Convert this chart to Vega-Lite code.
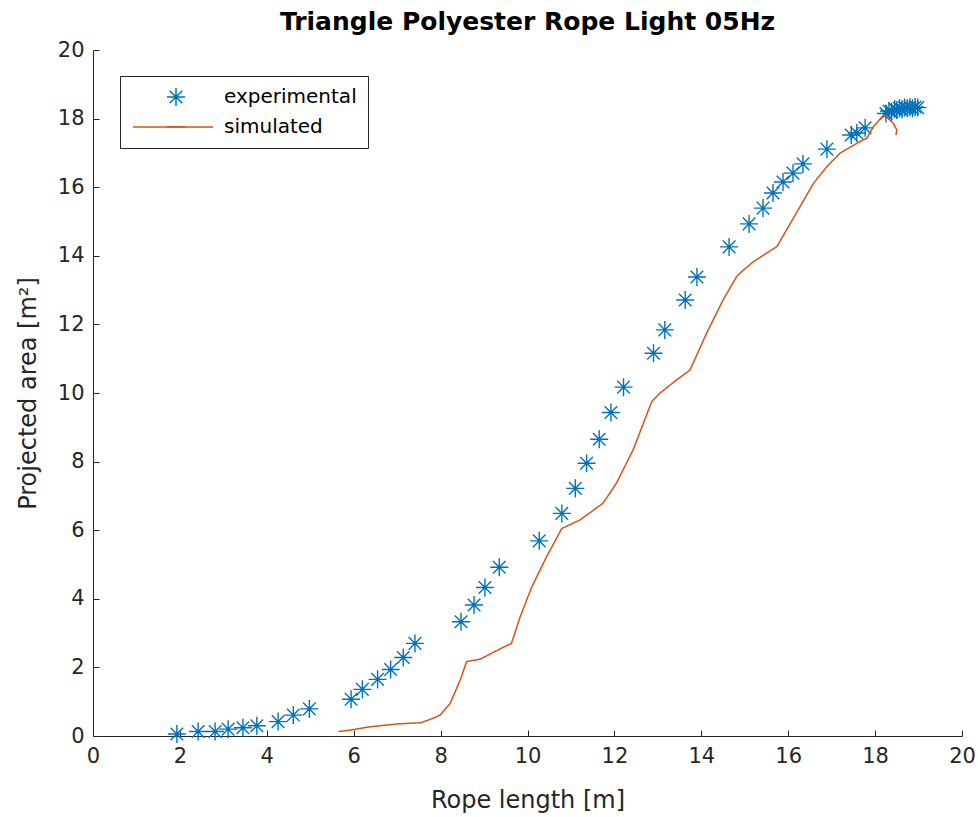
{
  "$schema": "https://vega.github.io/schema/vega-lite/v6.json",
  "width": 869,
  "height": 686,
  "autosize": {"type": "none"},
  "padding": {"left": 93, "top": 50, "right": 16, "bottom": 81},
  "background": "white",
  "title": {"text": "Triangle Polyester Rope Light 05Hz", "font": "DejaVu Sans", "fontSize": 25, "fontWeight": "bold", "color": "#000000", "anchor": "middle", "offset": 4},
  "datasets": {
    "exp": [
      {"x": 1.93, "y": 0.06, "series": "experimental"},
      {"x": 2.42, "y": 0.13, "series": "experimental"},
      {"x": 2.81, "y": 0.13, "series": "experimental"},
      {"x": 3.11, "y": 0.2, "series": "experimental"},
      {"x": 3.45, "y": 0.24, "series": "experimental"},
      {"x": 3.77, "y": 0.3, "series": "experimental"},
      {"x": 4.26, "y": 0.42, "series": "experimental"},
      {"x": 4.61, "y": 0.61, "series": "experimental"},
      {"x": 4.98, "y": 0.79, "series": "experimental"},
      {"x": 5.94, "y": 1.07, "series": "experimental"},
      {"x": 6.2, "y": 1.36, "series": "experimental"},
      {"x": 6.55, "y": 1.65, "series": "experimental"},
      {"x": 6.85, "y": 1.94, "series": "experimental"},
      {"x": 7.14, "y": 2.29, "series": "experimental"},
      {"x": 7.41, "y": 2.7, "series": "experimental"},
      {"x": 8.47, "y": 3.33, "series": "experimental"},
      {"x": 8.77, "y": 3.82, "series": "experimental"},
      {"x": 9.02, "y": 4.33, "series": "experimental"},
      {"x": 9.35, "y": 4.92, "series": "experimental"},
      {"x": 10.27, "y": 5.69, "series": "experimental"},
      {"x": 10.79, "y": 6.49, "series": "experimental"},
      {"x": 11.1, "y": 7.22, "series": "experimental"},
      {"x": 11.36, "y": 7.95, "series": "experimental"},
      {"x": 11.65, "y": 8.65, "series": "experimental"},
      {"x": 11.92, "y": 9.43, "series": "experimental"},
      {"x": 12.21, "y": 10.17, "series": "experimental"},
      {"x": 12.9, "y": 11.16, "series": "experimental"},
      {"x": 13.16, "y": 11.84, "series": "experimental"},
      {"x": 13.63, "y": 12.71, "series": "experimental"},
      {"x": 13.9, "y": 13.38, "series": "experimental"},
      {"x": 14.64, "y": 14.26, "series": "experimental"},
      {"x": 15.1, "y": 14.93, "series": "experimental"},
      {"x": 15.42, "y": 15.39, "series": "experimental"},
      {"x": 15.65, "y": 15.83, "series": "experimental"},
      {"x": 15.88, "y": 16.15, "series": "experimental"},
      {"x": 16.11, "y": 16.41, "series": "experimental"},
      {"x": 16.34, "y": 16.68, "series": "experimental"},
      {"x": 16.89, "y": 17.11, "series": "experimental"},
      {"x": 17.45, "y": 17.52, "series": "experimental"},
      {"x": 17.58, "y": 17.58, "series": "experimental"},
      {"x": 17.77, "y": 17.73, "series": "experimental"},
      {"x": 18.25, "y": 18.15, "series": "experimental"},
      {"x": 18.32, "y": 18.22, "series": "experimental"},
      {"x": 18.38, "y": 18.2, "series": "experimental"},
      {"x": 18.45, "y": 18.28, "series": "experimental"},
      {"x": 18.5, "y": 18.25, "series": "experimental"},
      {"x": 18.56, "y": 18.3, "series": "experimental"},
      {"x": 18.62, "y": 18.27, "series": "experimental"},
      {"x": 18.68, "y": 18.32, "series": "experimental"},
      {"x": 18.74, "y": 18.3, "series": "experimental"},
      {"x": 18.8, "y": 18.33, "series": "experimental"},
      {"x": 18.86, "y": 18.3, "series": "experimental"},
      {"x": 18.92, "y": 18.34, "series": "experimental"},
      {"x": 18.98, "y": 18.32, "series": "experimental"}
    ],
    "sim": [
      {"i": 1, "x": 5.65, "y": 0.13, "series": "simulated"},
      {"i": 2, "x": 5.91, "y": 0.17, "series": "simulated"},
      {"i": 3, "x": 6.38, "y": 0.27, "series": "simulated"},
      {"i": 4, "x": 6.99, "y": 0.35, "series": "simulated"},
      {"i": 5, "x": 7.56, "y": 0.39, "series": "simulated"},
      {"i": 6, "x": 7.83, "y": 0.52, "series": "simulated"},
      {"i": 7, "x": 7.99, "y": 0.61, "series": "simulated"},
      {"i": 8, "x": 8.22, "y": 0.95, "series": "simulated"},
      {"i": 9, "x": 8.45, "y": 1.63, "series": "simulated"},
      {"i": 10, "x": 8.6, "y": 2.17, "series": "simulated"},
      {"i": 11, "x": 8.91, "y": 2.24, "series": "simulated"},
      {"i": 12, "x": 9.37, "y": 2.54, "series": "simulated"},
      {"i": 13, "x": 9.63, "y": 2.7, "series": "simulated"},
      {"i": 14, "x": 9.83, "y": 3.47, "series": "simulated"},
      {"i": 15, "x": 10.1, "y": 4.35, "series": "simulated"},
      {"i": 16, "x": 10.44, "y": 5.23, "series": "simulated"},
      {"i": 17, "x": 10.79, "y": 6.05, "series": "simulated"},
      {"i": 18, "x": 11.21, "y": 6.3, "series": "simulated"},
      {"i": 19, "x": 11.74, "y": 6.79, "series": "simulated"},
      {"i": 20, "x": 12.05, "y": 7.38, "series": "simulated"},
      {"i": 21, "x": 12.43, "y": 8.34, "series": "simulated"},
      {"i": 22, "x": 12.86, "y": 9.75, "series": "simulated"},
      {"i": 23, "x": 13.05, "y": 10.0, "series": "simulated"},
      {"i": 24, "x": 13.43, "y": 10.38, "series": "simulated"},
      {"i": 25, "x": 13.74, "y": 10.67, "series": "simulated"},
      {"i": 26, "x": 14.12, "y": 11.74, "series": "simulated"},
      {"i": 27, "x": 14.5, "y": 12.71, "series": "simulated"},
      {"i": 28, "x": 14.81, "y": 13.39, "series": "simulated"},
      {"i": 29, "x": 14.93, "y": 13.54, "series": "simulated"},
      {"i": 30, "x": 15.2, "y": 13.83, "series": "simulated"},
      {"i": 31, "x": 15.74, "y": 14.27, "series": "simulated"},
      {"i": 32, "x": 15.96, "y": 14.75, "series": "simulated"},
      {"i": 33, "x": 16.27, "y": 15.43, "series": "simulated"},
      {"i": 34, "x": 16.58, "y": 16.11, "series": "simulated"},
      {"i": 35, "x": 16.89, "y": 16.6, "series": "simulated"},
      {"i": 36, "x": 17.19, "y": 16.99, "series": "simulated"},
      {"i": 37, "x": 17.58, "y": 17.28, "series": "simulated"},
      {"i": 38, "x": 17.81, "y": 17.43, "series": "simulated"},
      {"i": 39, "x": 17.96, "y": 17.76, "series": "simulated"},
      {"i": 40, "x": 18.19, "y": 18.1, "series": "simulated"},
      {"i": 41, "x": 18.3, "y": 18.01, "series": "simulated"},
      {"i": 42, "x": 18.42, "y": 17.86, "series": "simulated"},
      {"i": 43, "x": 18.5, "y": 17.67, "series": "simulated"},
      {"i": 44, "x": 18.48, "y": 17.52, "series": "simulated"}
    ],
    "note": [{"label": "r2 = 0.9344"}]
  },
  "encoding": {
    "x": {"field": "x", "type": "quantitative", "scale": {"domain": [0, 20], "nice": false}, "axis": {"title": "Rope length [m]", "values": [0, 2, 4, 6, 8, 10, 12, 14, 16, 18, 20], "titlePadding": 22}},
    "y": {"field": "y", "type": "quantitative", "scale": {"domain": [0, 20], "nice": false}, "axis": {"title": "Projected area [m²]", "values": [0, 2, 4, 6, 8, 10, 12, 14, 16, 18, 20], "titlePadding": 17}}
  },
  "layer": [
    {
      "data": {"name": "exp"},
      "mark": {"type": "point", "filled": false, "strokeWidth": 1.4, "size": 324, "opacity": 1},
      "encoding": {
        "color": {"field": "series", "type": "nominal", "scale": {"domain": ["experimental", "simulated"], "range": ["#0072BD", "#D95319"]},
          "legend": {"title": null, "orient": "none", "legendX": 27, "legendY": 26, "strokeColor": "#262626", "fillColor": "white", "padding": 11, "labelFont": "DejaVu Sans", "labelFontSize": 20, "labelColor": "#000000", "symbolOffset": 35, "labelOffset": 38, "rowPadding": 8, "symbolStrokeWidth": 1.5, "symbolSize": 324}},
        "shape": {"field": "series", "type": "nominal", "scale": {"domain": ["experimental", "simulated"], "range": ["M-1,0L1,0M0,-1L0,1M-0.7,-0.7L0.7,0.7M-0.7,0.7L0.7,-0.7", "stroke"]},
          "legend": {"title": null, "orient": "none", "legendX": 27, "legendY": 26, "strokeColor": "#262626", "fillColor": "white", "padding": 11, "labelFont": "DejaVu Sans", "labelFontSize": 20, "labelColor": "#000000", "symbolOffset": 35, "labelOffset": 38, "rowPadding": 8, "symbolStrokeWidth": 1.5, "symbolSize": 324}}
      }
    },
    {
      "data": {"name": "sim"},
      "mark": {"type": "line", "strokeWidth": 1.5},
      "encoding": {
        "color": {"field": "series", "type": "nominal", "legend": null},
        "strokeDash": {"field": "series", "type": "nominal", "scale": {"domain": ["simulated"], "range": [[1, 0]]},
          "legend": {"title": null, "orient": "none", "legendX": 39, "legendY": 36, "padding": 0, "symbolType": "stroke", "symbolSize": 6400, "symbolStrokeColor": "#D95319", "symbolStrokeWidth": 1.5, "labelExpr": "''"}},
        "order": {"field": "i", "type": "quantitative"}
      }
    },
    {
      "data": {"name": "note"},
      "mark": {"type": "text", "font": "DejaVu Sans", "fontSize": 21, "align": "center", "baseline": "middle", "color": "#000000"},
      "encoding": {
        "x": {"datum": 3.44, "type": "quantitative"},
        "y": {"datum": 16.0, "type": "quantitative"},
        "text": {"field": "label"}
      }
    }
  ],
  "config": {
    "view": {"stroke": null},
    "axis": {"grid": false, "domainColor": "#262626", "tickColor": "#262626", "labelColor": "#262626", "titleColor": "#262626", "labelFont": "DejaVu Sans", "titleFont": "DejaVu Sans", "labelFontSize": 21, "titleFontSize": 24, "titleFontWeight": "normal", "tickSize": -6, "labelPadding": 15, "domainWidth": 1, "tickWidth": 1, "labelFlush": false, "labelOverlap": false}
  }
}
